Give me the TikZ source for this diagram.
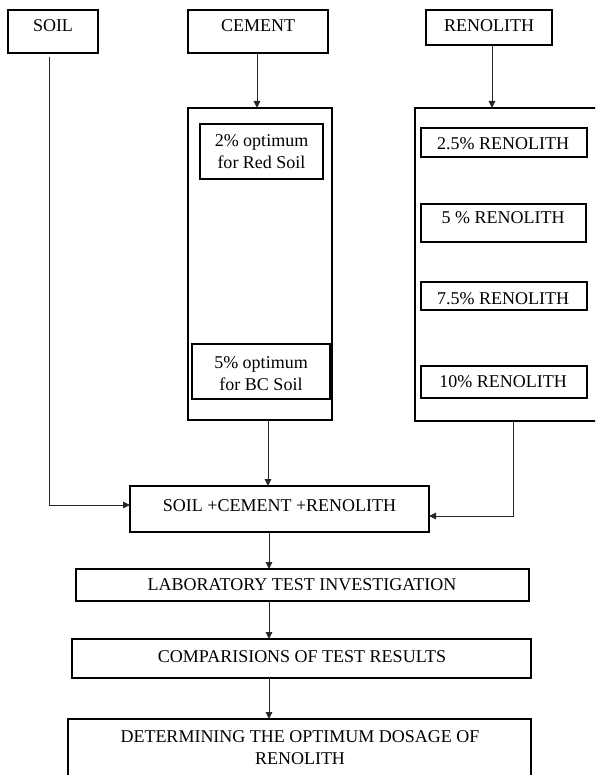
\documentclass[tikz,border=0pt]{standalone}
\usepackage{fontspec}
\setmainfont{Liberation Serif}
\usetikzlibrary{arrows.meta}
\tikzset{
  box/.style={draw=black, line width=1.4pt, inner sep=0pt, outer sep=0pt},
  txt/.style={anchor=base, inner sep=0pt, font=\fontsize{18}{22}\selectfont, align=center},
  arr/.style={draw=black!85, line width=1pt, -{Triangle[length=7pt,width=6.5pt]}},
  ln/.style={draw=black!85, line width=1pt}
}
\newcommand\bx[5]{\node[box, minimum width={#4-#2}, minimum height={#5-#3}] (#1) at ({(#2+#4)/2},{(#3+#5)/2}) {};}
\begin{document}
\begin{tikzpicture}[x=1pt, y=-1pt]
\clip (0,0) rectangle (595,775);
\fill[white] (0,0) rectangle (595,775);
% top boxes
\bx{soil}{8}{10}{98}{53}
\bx{cement}{188}{10}{328}{53}
\bx{renolith}{426}{10}{552}{45}
\node[txt] (soilT) at (53,32) {SOIL};
\node[txt] (cementT) at (258,32) {CEMENT};
\node[txt] (renolithT) at (489,32) {RENOLITH};
% big boxes
\bx{cembig}{188}{108}{332}{420}
\bx{renbig}{415}{108}{611}{421}
% cement inner boxes
\bx{c2}{200}{124}{323}{179}
\node[txt] (c2T) at (261.5,169) {2\% optimum\\for Red Soil};
\bx{c5}{192}{344}{330}{399}
\node[txt] (c5T) at (261,390) {5\% optimum\\for BC Soil};
% renolith inner boxes
\bx{r1}{421}{128}{587}{157}
\node[txt] (r1T) at (503,150) {2.5\% RENOLITH};
\bx{r2}{421}{204}{586}{242}
\node[txt] (r2T) at (503,224) {5 \% RENOLITH};
\bx{r3}{421}{282}{587}{310}
\node[txt] (r3T) at (503,304) {7.5\% RENOLITH};
\bx{r4}{421}{366}{587}{398}
\node[txt] (r4T) at (503,387) {10\% RENOLITH};
% mix box
\bx{mix}{130}{486}{429}{532}
\node[txt] (mixT) at (279.5,511) {SOIL +CEMENT +RENOLITH};
% bottom boxes
\bx{lab}{76}{569}{529}{601}
\node[txt] (labT) at (302,590) {LABORATORY TEST INVESTIGATION};
\bx{comp}{72}{639}{531}{678}
\node[txt] (compT) at (302,662) {COMPARISIONS OF TEST RESULTS};
\bx{det}{68}{719}{531}{800}
\node[txt] (detT) at (300,764) {DETERMINING THE OPTIMUM DOSAGE OF\\RENOLITH};
% connectors
\coordinate (ax) at (269,0);
\draw[arr] ([xshift=-4pt,yshift=-4pt]soil.south) |- ([yshift=4pt]mix.west);
\draw[arr] ([xshift=-1pt]cement.south) -- ([xshift=-1pt]cement.south |- cembig.north);
\draw[arr] ([xshift=3pt]renolith.south) -- ([xshift=3pt]renolith.south |- renbig.north);
\draw[arr] ([xshift=8pt]cembig.south) -- ([xshift=8pt]cembig.south |- mix.north);
\draw[arr] (renbig.south) |- ([yshift=-7pt]mix.east);
\draw[arr] (mix.south -| ax) -- (lab.north -| ax);
\draw[arr] (lab.south -| ax) -- (comp.north -| ax);
\draw[arr] (comp.south -| ax) -- (det.north -| ax);
\end{tikzpicture}
\end{document}
